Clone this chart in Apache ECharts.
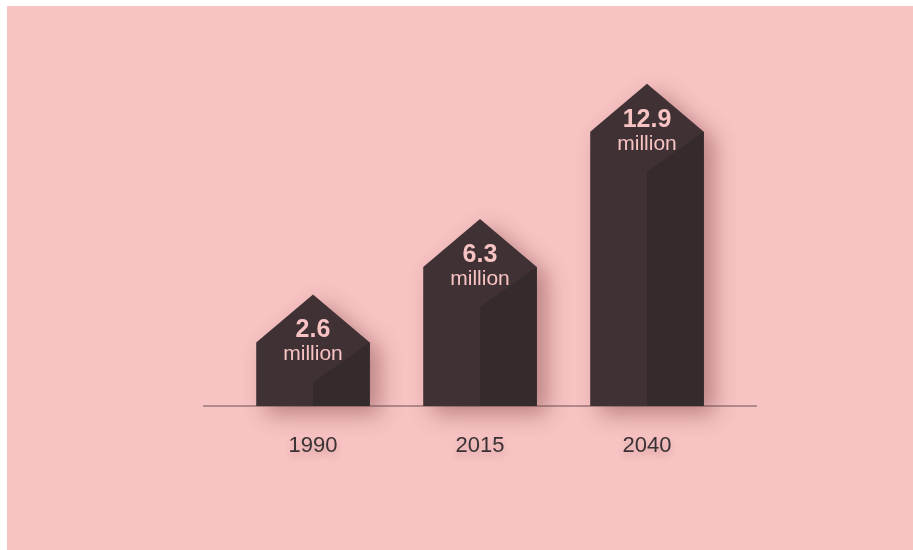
<!DOCTYPE html>
<html lang="en">
<head>
<meta charset="UTF-8">
<title>population</title>
<script src="https://cdn.jsdelivr.net/npm/echarts@6/dist/echarts.min.js"></script>
<style>
    body { margin: 0; background: #fff; overflow: hidden; }
    #main { position: absolute; left: 7px; top: 6px; width: 906px; height: 546px; }
</style>
</head>
<body>
<div id="main"></div>
<script type="text/javascript">
    // data
    var years = ['1990', '2015', '2040'];
    var values = [2.6, 6.3, 12.9];
    var unit = 'million';

    var chart = echarts.init(document.getElementById('main'));

    // house shaped bar: body + roof, darker fold on the right
    function renderHouse(params, api) {
        var idx = api.value(0);
        var v = values[params.dataIndex];
        var top = api.coord([idx, api.value(1)]);
        var base = api.coord([idx, -0.5]);
        var w = api.size([1, 0])[0] * 0.68;
        var cx = top[0], sy = top[1], by = base[1];
        var l = cx - w / 2, r = cx + w / 2;
        var roof = 48, fold = 40;
        return {
            type: 'group',
            children: [
                {
                    type: 'polygon',
                    shape: { points: [[l, by], [l, sy], [cx, sy - roof], [r, sy], [r, by]] },
                    style: {
                        fill: '#3f3134',
                        shadowBlur: 22, shadowOffsetX: 10, shadowOffsetY: 8,
                        shadowColor: 'rgba(110,50,50,0.45)'
                    }
                },
                {
                    type: 'polygon',
                    shape: { points: [[cx, by], [cx, sy + fold], [r, sy], [r, by]] },
                    style: { fill: '#352a2c' }
                },
                {
                    type: 'text', x: cx, y: sy - 12,
                    style: {
                        text: v.toFixed(1), fill: '#f7c3c3', align: 'center', verticalAlign: 'middle',
                        font: 'bold 25px "Liberation Sans", Arial, sans-serif'
                    }
                },
                {
                    type: 'text', x: cx, y: sy + 12,
                    style: {
                        text: unit, fill: '#f7c3c3', align: 'center', verticalAlign: 'middle',
                        font: '21px "Liberation Sans", Arial, sans-serif'
                    }
                }
            ]
        };
    }

    var option = {
        backgroundColor: '#f8c3c3',
        animation: false,
        grid: { left: 222.5, right: 182.5, top: 21.5, bottom: 146 },
        xAxis: {
            type: 'category',
            data: years,
            axisLine: { show: false },
            axisTick: { show: false },
            axisLabel: {
                margin: 29,
                color: '#3a3234',
                fontSize: 22,
                fontFamily: 'Liberation Sans',
                textShadowColor: 'rgba(120,60,60,0.25)',
                textShadowBlur: 6,
                textShadowOffsetY: 4
            }
        },
        yAxis: {
            type: 'value',
            min: -0.5,
            max: 18,
            show: false,
            splitLine: { show: false }
        },
        graphic: [{
            type: 'line',
            z: 0,
            shape: { x1: 196, y1: 400, x2: 750, y2: 400 },
            style: { stroke: '#b08a8a', lineWidth: 2 }
        }],
        series: [{
            type: 'custom',
            z: 5,
            renderItem: renderHouse,
            encode: { x: 0, y: 1 },
            data: values.map(function (v, i) { return [i, v]; })
        }]
    };

    chart.setOption(option);
</script>
</body>
</html>
